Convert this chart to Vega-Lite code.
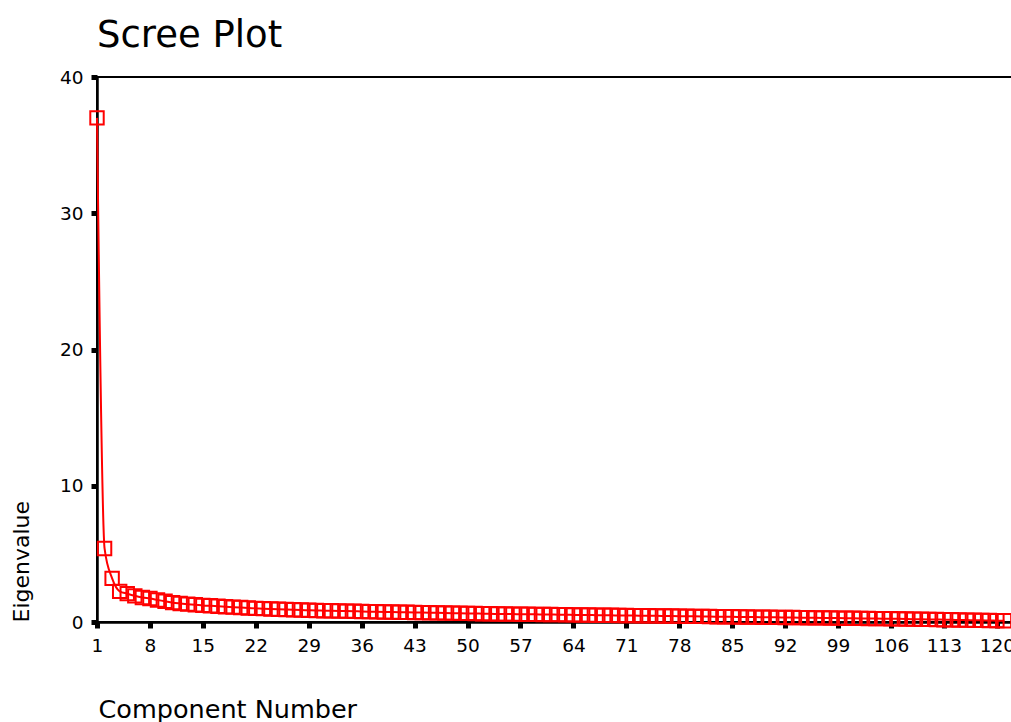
{
  "$schema": "https://vega.github.io/schema/vega-lite/v6.json",
  "autosize": "none",
  "padding": {"left": 97, "top": 77, "right": 0, "bottom": 100},
  "width": 915,
  "height": 545,
  "background": "white",
  "title": {"text": "Scree Plot", "anchor": "start", "frame": "group", "fontSize": 37, "font": "DejaVu Sans", "fontWeight": "normal", "color": "black", "baseline": "alphabetic", "offset": -16},
  "config": {
    "view": {"stroke": "black", "strokeWidth": 2},
    "axis": {
      "grid": false,
      "domainColor": "black",
      "domainWidth": 2.5,
      "tickColor": "black",
      "tickWidth": 5,
      "tickSize": 6,
      "labelFont": "DejaVu Sans",
      "labelFontSize": 18.5,
      "labelColor": "black",
      "labelPadding": 8,
      "labelOverlap": false,
      "titleFont": "DejaVu Sans",
      "titleFontWeight": "normal",
      "titleColor": "black"
    }
  },
  "data": {"values": [
    {"c":1,"v":37.0},{"c":2,"v":5.4},{"c":3,"v":3.2},{"c":4,"v":2.25},{"c":5,"v":2.08},{"c":6,"v":1.92},{"c":7,"v":1.8},{"c":8,"v":1.72},{"c":9,"v":1.62},{"c":10,"v":1.52},
    {"c":11,"v":1.42},{"c":12,"v":1.36},{"c":13,"v":1.31},{"c":14,"v":1.27},{"c":15,"v":1.22},{"c":16,"v":1.19},{"c":17,"v":1.16},{"c":18,"v":1.12},{"c":19,"v":1.09},{"c":20,"v":1.06},
    {"c":21,"v":1.03},{"c":22,"v":1.0},{"c":23,"v":0.98},{"c":24,"v":0.96},{"c":25,"v":0.94},{"c":26,"v":0.92},{"c":27,"v":0.9},{"c":28,"v":0.88},{"c":29,"v":0.86},{"c":30,"v":0.85},
    {"c":31,"v":0.83},{"c":32,"v":0.82},{"c":33,"v":0.81},{"c":34,"v":0.8},{"c":35,"v":0.79},{"c":36,"v":0.77},{"c":37,"v":0.76},{"c":38,"v":0.75},{"c":39,"v":0.74},{"c":40,"v":0.73},
    {"c":41,"v":0.72},{"c":42,"v":0.71},{"c":43,"v":0.7},{"c":44,"v":0.69},{"c":45,"v":0.68},{"c":46,"v":0.67},{"c":47,"v":0.66},{"c":48,"v":0.65},{"c":49,"v":0.64},{"c":50,"v":0.63},
    {"c":51,"v":0.62},{"c":52,"v":0.61},{"c":53,"v":0.6},{"c":54,"v":0.59},{"c":55,"v":0.585},{"c":56,"v":0.58},{"c":57,"v":0.57},{"c":58,"v":0.565},{"c":59,"v":0.56},{"c":60,"v":0.55},
    {"c":61,"v":0.545},{"c":62,"v":0.54},{"c":63,"v":0.53},{"c":64,"v":0.52},{"c":65,"v":0.515},{"c":66,"v":0.51},{"c":67,"v":0.5},{"c":68,"v":0.495},{"c":69,"v":0.49},{"c":70,"v":0.48},
    {"c":71,"v":0.475},{"c":72,"v":0.47},{"c":73,"v":0.46},{"c":74,"v":0.455},{"c":75,"v":0.45},{"c":76,"v":0.44},{"c":77,"v":0.435},{"c":78,"v":0.43},{"c":79,"v":0.42},{"c":80,"v":0.415},
    {"c":81,"v":0.41},{"c":82,"v":0.4},{"c":83,"v":0.39},{"c":84,"v":0.385},{"c":85,"v":0.38},{"c":86,"v":0.37},{"c":87,"v":0.365},{"c":88,"v":0.36},{"c":89,"v":0.35},{"c":90,"v":0.345},
    {"c":91,"v":0.34},{"c":92,"v":0.33},{"c":93,"v":0.325},{"c":94,"v":0.32},{"c":95,"v":0.31},{"c":96,"v":0.305},{"c":97,"v":0.3},{"c":98,"v":0.29},{"c":99,"v":0.285},{"c":100,"v":0.28},
    {"c":101,"v":0.27},{"c":102,"v":0.265},{"c":103,"v":0.26},{"c":104,"v":0.25},{"c":105,"v":0.245},{"c":106,"v":0.24},{"c":107,"v":0.23},{"c":108,"v":0.22},{"c":109,"v":0.21},{"c":110,"v":0.2},
    {"c":111,"v":0.19},{"c":112,"v":0.18},{"c":113,"v":0.17},{"c":114,"v":0.16},{"c":115,"v":0.15},{"c":116,"v":0.14},{"c":117,"v":0.13},{"c":118,"v":0.12},{"c":119,"v":0.11},{"c":120,"v":0.1},
    {"c":121,"v":0.09}
  ]},
  "encoding": {
    "x": {"field": "c", "type": "quantitative",
      "scale": {"domain": [1, 122], "nice": false, "zero": false},
      "axis": {"values": [1,8,15,22,29,36,43,50,57,64,71,78,85,92,99,106,113,120],
        "title": "Component Number", "titleFontSize": 25.5, "titleAnchor": "start", "titleAlign": "left",
        "titleBaseline": "alphabetic", "titleX": 1, "titleY": 95, "labelFlush": false}},
    "y": {"field": "v", "type": "quantitative",
      "scale": {"domain": [0, 40], "nice": false},
      "axis": {"values": [0,10,20,30,40], "title": "Eigenvalue", "titleFontSize": 22,
        "titleAngle": 270, "titleAlign": "left", "titleBaseline": "alphabetic",
        "titleX": -69, "titleY": 545}}
  },
  "layer": [
    {"mark": {"type": "line", "color": "#ff0000", "strokeWidth": 2, "interpolate": "monotone"}},
    {"mark": {"type": "point", "shape": "square", "filled": false, "stroke": "#ff0000", "strokeWidth": 2, "size": 180, "opacity": 1}}
  ]
}
